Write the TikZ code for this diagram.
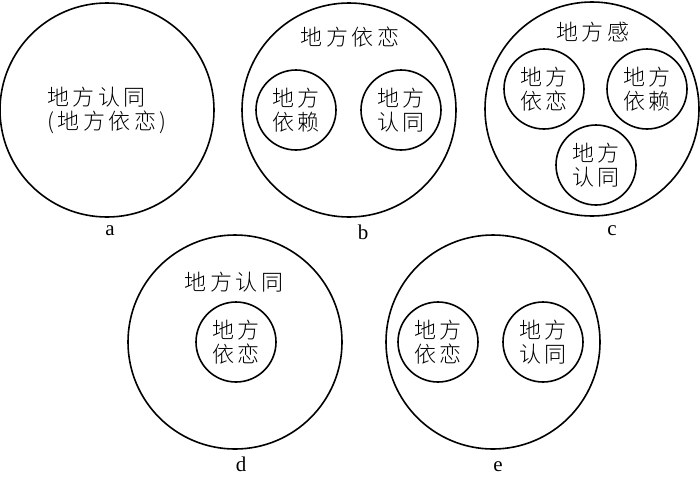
\documentclass[tikz,border=0pt]{standalone}
\usepackage{fontspec}
\setmainfont{Liberation Serif}
\newfontfamily\cjk{Noto Sans CJK SC Light}[LetterSpace=16]
\begin{document}
\begin{tikzpicture}[x=1pt,y=-1pt,
  outer/.style={circle,draw,line width=1.6pt,minimum size=214pt,inner sep=0pt},
  inner/.style={circle,draw,line width=1.6pt,minimum size=80pt,inner sep=0pt,
    font=\cjk\fontsize{22}{24}\selectfont,align=center},
  ttl/.style={font=\cjk\fontsize{22}{24}\selectfont,inner sep=0pt},
  lab/.style={font=\fontsize{21}{21}\selectfont,anchor=base,inner sep=0pt}]
\useasboundingbox (0,0) rectangle (700,477);
% a
\node[outer] (A) at (107,110) {};
\node[ttl,anchor=west,align=left] (Atext) at (47,110) {地方认同\\(地方依恋)};
\node[lab] (la) at (110,235) {a};
% b
\node[outer] (B) at (349,110) {};
\node[ttl] (Bt) at (350,37) {地方依恋};
\node[inner] (B1) at (296,110) {地方\\依赖};
\node[inner] (B2) at (401,110) {地方\\认同};
\node[lab] (lb) at (363,239) {b};
% c
\node[outer] (C) at (592,109) {};
\node[ttl] (Ct) at (593,32) {地方感};
\node[inner] (C1) at (544,89) {地方\\依恋};
\node[inner] (C2) at (647,89) {地方\\依赖};
\node[inner] (C3) at (596,165) {地方\\认同};
\node[lab] (lc) at (612,235) {c};
% d
\node[outer] (D) at (235,342) {};
\node[ttl] (Dt) at (234,282) {地方认同};
\node[inner] (D1) at (236,342) {地方\\依恋};
\node[lab] (ld) at (241,471) {d};
% e
\node[outer] (E) at (493,342) {};
\node[inner] (E1) at (438,342) {地方\\依恋};
\node[inner] (E2) at (543,342) {地方\\认同};
\node[lab] (le) at (498,471) {e};
\end{tikzpicture}
\end{document}
